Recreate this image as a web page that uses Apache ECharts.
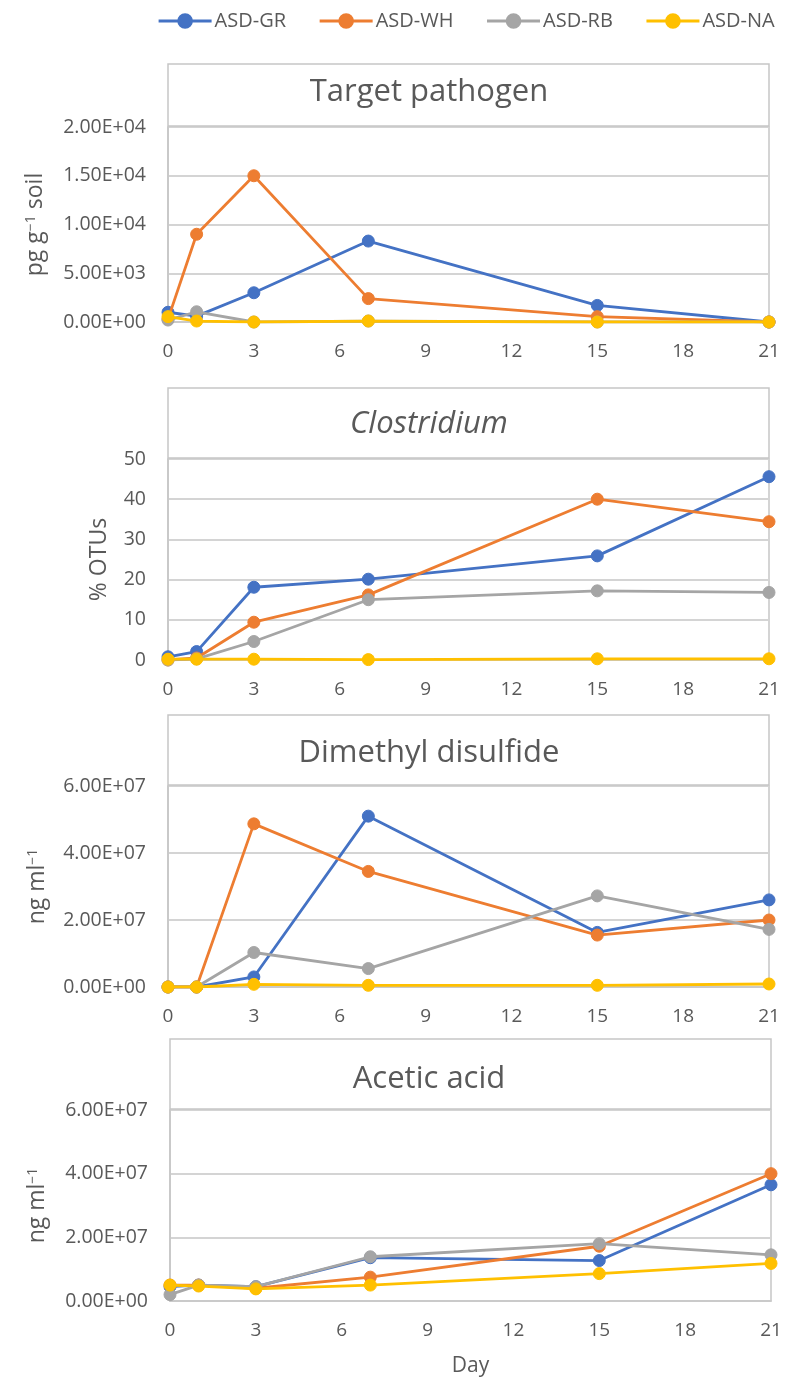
<!DOCTYPE html>
<html>
<head>
<meta charset="utf-8">
<title>ASD time course</title>
<script src="https://cdn.jsdelivr.net/npm/echarts@6/dist/echarts.min.js"></script>
<style>
  html, body { margin: 0; padding: 0; background: #ffffff; }
  #chart { width: 796px; height: 1382px; }
</style>
</head>
<body>
<div id="chart"></div>
<script>
// Sampling days (x axis)
const days = [0, 1, 3, 7, 15, 21];
const dayTicks = ['0', '3', '6', '9', '12', '15', '18', '21'];

const seriesNames = ['ASD-GR', 'ASD-WH', 'ASD-RB', 'ASD-NA'];
const seriesColors = ['#4472C4', '#ED7D31', '#A5A5A5', '#FFC000'];

// Target pathogen, pg g-1 soil
const pathogenGR = [1000, 600, 3000, 8300, 1700, 0];
const pathogenWH = [300, 9000, 15000, 2400, 550, 0];
const pathogenRB = [200, 1050, 0, 100, 0, 0];
const pathogenNA = [550, 100, 0, 100, 0, 0];
const pathogenTicks = ['0.00E+00', '5.00E+03', '1.00E+04', '1.50E+04', '2.00E+04'];

// Clostridium, % OTUs
const clostridiumGR = [0.8, 2.1, 18.1, 20.1, 25.9, 45.6];
const clostridiumWH = [0, 0.5, 9.4, 16.2, 40.0, 34.4];
const clostridiumRB = [0, 0.3, 4.6, 15.0, 17.2, 16.8];
const clostridiumNA = [0.2, 0.2, 0.2, 0.1, 0.3, 0.3];
const clostridiumTicks = ['0', '10', '20', '30', '40', '50'];

// Dimethyl disulfide, ng ml-1
const dmdsGR = [0, 0, 3.0e6, 5.1e7, 1.63e7, 2.6e7];
const dmdsWH = [0, 0, 4.87e7, 3.45e7, 1.55e7, 2.0e7];
const dmdsRB = [0, 0, 1.03e7, 5.5e6, 2.72e7, 1.72e7];
const dmdsNA = [0, 0, 8e5, 5e5, 5e5, 9e5];
const dmdsTicks = ['0.00E+00', '2.00E+07', '4.00E+07', '6.00E+07'];

// Acetic acid, ng ml-1
const aceticGR = [4.5e6, 5.0e6, 4.5e6, 1.36e7, 1.27e7, 3.65e7];
const aceticWH = [5.0e6, 5.0e6, 4.0e6, 7.5e6, 1.72e7, 4.0e7];
const aceticRB = [2.0e6, 5.0e6, 4.5e6, 1.39e7, 1.8e7, 1.45e7];
const aceticNA = [5.0e6, 4.7e6, 3.8e6, 5.0e6, 8.6e6, 1.18e7];
const aceticTicks = ['0.00E+00', '2.00E+07', '4.00E+07', '6.00E+07'];

const TEXT = '#595959';
const FONT = '"Open Sans", "Noto Sans", sans-serif';

// Panel descriptions: values, ticks and layout of each stacked chart
const panels = [
  { title: 'Target pathogen', italic: false, values: [pathogenGR, pathogenWH, pathogenRB, pathogenNA],
    ticks: pathogenTicks, max: 20000, interval: 5000,
    axisName: 'pg g{sup|−1} soil', nameGap: 121,
    left: 168, right: 769, boxTop: 64, top: 127, bottom: 322, titleY: 92 },
  { title: 'Clostridium', italic: true, values: [clostridiumGR, clostridiumWH, clostridiumRB, clostridiumNA],
    ticks: clostridiumTicks, max: 50, interval: 10,
    axisName: '% OTUs', nameGap: 57,
    left: 168, right: 769, boxTop: 388, top: 459, bottom: 660, titleY: 424 },
  { title: 'Dimethyl disulfide', italic: false, values: [dmdsGR, dmdsWH, dmdsRB, dmdsNA],
    ticks: dmdsTicks, max: 6e7, interval: 2e7,
    axisName: 'ng ml{sup|−1}', nameGap: 119,
    left: 168, right: 769, boxTop: 715, top: 786, bottom: 987, titleY: 753 },
  { title: 'Acetic acid', italic: false, values: [aceticGR, aceticWH, aceticRB, aceticNA],
    ticks: aceticTicks, max: 6e7, interval: 2e7,
    axisName: 'ng ml{sup|−1}', nameGap: 121,
    left: 170, right: 771, boxTop: 1039, top: 1110, bottom: 1301, titleY: 1079, xName: 'Day' }
];

const W = 796, H = 1382;
const grids = [], xAxes = [], yAxes = [], series = [], graphics = [];

panels.forEach((p, pi) => {
  grids.push({
    left: p.left, width: p.right - p.left, top: p.top, height: p.bottom - p.top,
    show: true, borderColor: '#c6c6c6', borderWidth: 1.5, backgroundColor: 'transparent'
  });
  xAxes.push({
    gridIndex: pi, type: 'value', min: 0, max: 21, interval: 3,
    axisLine: { show: true, lineStyle: { color: '#c6c6c6', width: 1.5 } },
    axisTick: { show: false }, splitLine: { show: false },
    axisLabel: { color: TEXT, fontFamily: FONT, fontSize: 19, margin: 20,
      formatter: v => dayTicks[Math.round(v / 3)] },
    name: p.xName || '', nameLocation: 'middle', nameGap: 55,
    nameTextStyle: { color: TEXT, fontFamily: FONT, fontSize: 21 }
  });
  yAxes.push({
    gridIndex: pi, type: 'value', min: 0, max: p.max, interval: p.interval,
    axisLine: { show: true, lineStyle: { color: '#c6c6c6', width: 1.5 } },
    axisTick: { show: false },
    splitLine: { show: true, lineStyle: { color: '#d4d4d4', width: 1.8 } },
    axisLabel: { color: TEXT, fontFamily: FONT, fontSize: 19.5, margin: 22,
      formatter: v => p.ticks[Math.round(v / p.interval)] },
    name: p.axisName, nameLocation: 'middle', nameGap: p.nameGap, nameRotate: 90,
    nameTextStyle: { color: TEXT, fontFamily: FONT, fontSize: 23,
      rich: { sup: { fontSize: 14, verticalAlign: 'top', color: TEXT, fontFamily: FONT } } }
  });
  p.values.forEach((vals, si) => {
    series.push({
      name: seriesNames[si], type: 'line', xAxisIndex: pi, yAxisIndex: pi,
      data: days.map((d, k) => [d, vals[k]]),
      symbol: 'circle', symbolSize: 12, showSymbol: true,
      lineStyle: { color: seriesColors[si], width: 2.8 },
      itemStyle: { color: seriesColors[si], borderColor: seriesColors[si], borderWidth: 1 },
      emphasis: { disabled: true }, animation: false, z: 2 + si
    });
  });
  // Title box above each plot area
  graphics.push({
    type: 'rect', z: 1,
    shape: { x: p.left, y: p.boxTop, width: p.right - p.left, height: p.top - p.boxTop - 1 },
    style: { fill: '#ffffff', stroke: '#c6c6c6', lineWidth: 1.5 }
  });
  graphics.push({
    type: 'text', z: 2, x: 429, y: p.titleY,
    style: { text: p.title, fill: TEXT, fontFamily: FONT, fontSize: 31,
      fontStyle: p.italic ? 'italic' : 'normal', align: 'center', verticalAlign: 'middle' }
  });
});

const chart = echarts.init(document.getElementById('chart'), null, { renderer: 'canvas', width: W, height: H });
chart.setOption({
  backgroundColor: '#ffffff',
  animation: false,
  color: seriesColors,
  legend: {
    top: 6, left: 152, itemWidth: 53, itemHeight: 17, itemGap: 32,
    data: seriesNames,
    lineStyle: { width: 3.2 },
    textStyle: { color: TEXT, fontFamily: FONT, fontSize: 20, padding: [0, 0, 0, -2] },
    selectedMode: false
  },
  grid: grids,
  xAxis: xAxes,
  yAxis: yAxes,
  series: series,
  graphic: graphics
});
</script>
</body>
</html>
